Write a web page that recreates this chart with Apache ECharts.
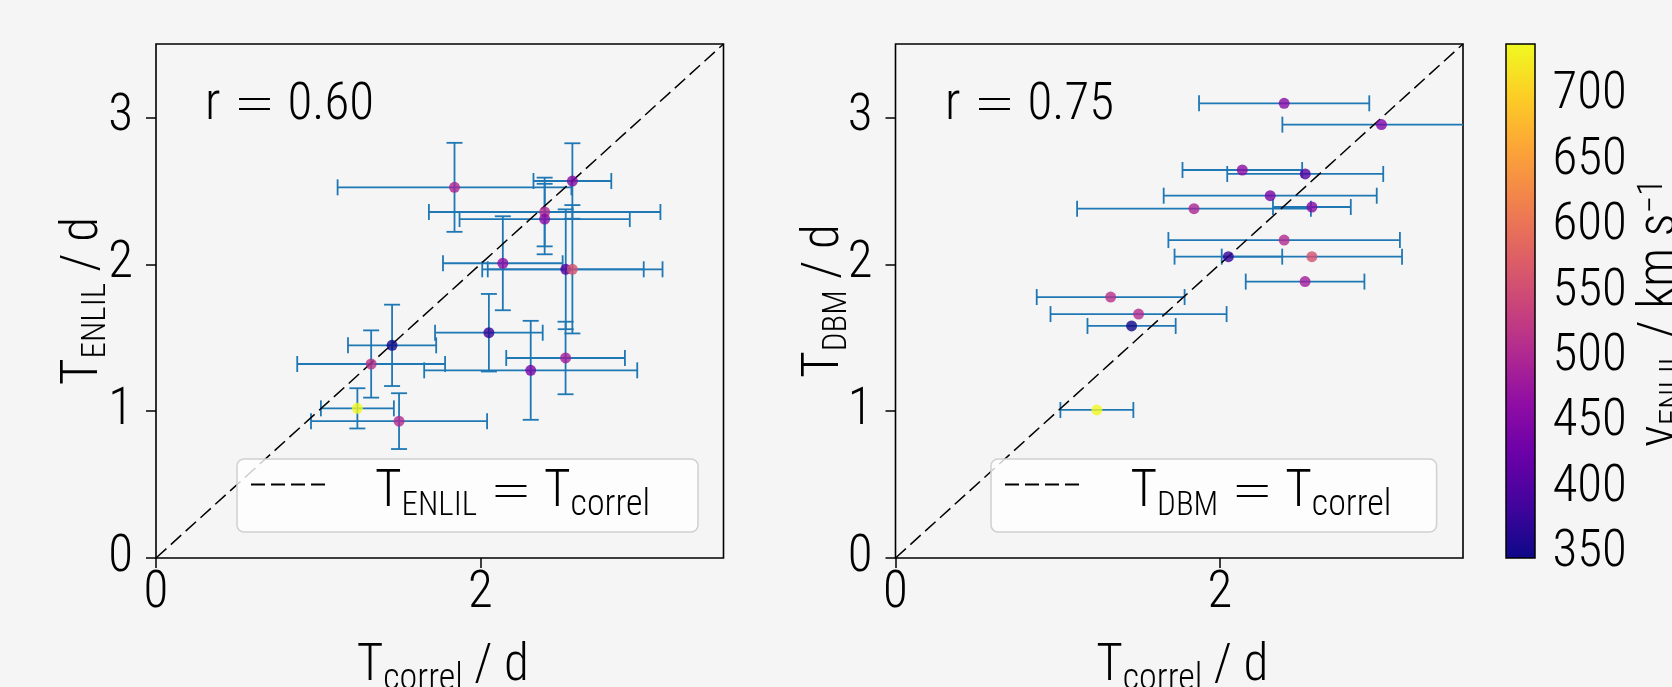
<!DOCTYPE html>
<html>
<head>
<meta charset="utf-8">
<script src="https://cdn.jsdelivr.net/npm/echarts@6.0.0/dist/echarts.min.js"></script>
<style>
html,body{margin:0;padding:0;background:#f5f5f5;overflow:hidden;}
#chart{width:1672px;height:687px;}
</style>
</head>
<body>
<div id="chart"></div>
<script>
// ---------------- data ----------------
const tCorrel    = [2.397, 2.397, 2.997, 2.139, 2.527, 2.311, 2.568, 1.841, 2.568, 2.053, 2.526, 1.327, 1.499, 1.456, 1.242];
const tCorrelErr = [0.714, 0.525, 0.611, 0.369, 0.481, 0.657, 0.240, 0.721, 0.556, 0.332, 0.366, 0.456, 0.543, 0.272, 0.225];
const tEnlil     = [2.356, 2.308, null,  2.007, 1.966, 1.278, 2.567, 2.524, 1.966, 1.534, 1.362, 1.321, 0.932, 1.448, 1.019];
const tEnlilErr  = [0.234, 0.240, null,  0.320, 0.408, 0.337, 0.257, 0.303, 0.437, 0.264, 0.247, 0.229, 0.190, 0.277, 0.137];
const tDbm       = [2.165, 3.096, 2.951, 2.642, 2.615, 2.467, 2.390, 2.379, 2.052, 2.052, 1.882, 1.777, 1.661, 1.580, 1.008];
const vEnlil     = [505, 455, 445, 460, 400, 440, 455, 495, 555, 375, 485, 512, 504, 346.5, 739.5];
const rValues    = ['0.60', '0.75'];
const xTicks  = [0, 2];
const yTicks  = [0, 1, 2, 3];
const cbTicks = [350, 400, 450, 500, 550, 600, 650, 700];
const axisMax = 3.5;

// ---------------- styling ----------------
const FF  = "'Roboto Condensed', 'Open Sans Condensed', sans-serif";
const FW  = 300;
const EQF = "'Noto Sans CJK SC'";
const EQT = '\uFF1D';
const FS = 51, FSS = 36, FSC = 33, EQS = 42, SUBDROP = 19;
const plasma = ['#0d0887','#41049d','#6a00a8','#8f0da4','#b12a90','#cc4778','#e16462','#f2844b','#fca636','#fcce25','#f0f921'];
const errColor = '#1f77b4';
const bg = '#f5f5f5';

function makeRich(P, gpad) {
  const base = {fontWeight: FW, color: '#000', verticalAlign: 'top'};
  return {
    g: Object.assign({fontFamily: FF, fontSize: FS, lineHeight: FS, padding: [P, 0, 0, gpad || 0]}, base),
    t: Object.assign({fontFamily: FF, fontSize: FS, lineHeight: FS, padding: [P, 0, 0, 0]}, base),
    s: Object.assign({fontFamily: FF, fontSize: FSS, lineHeight: FSS, padding: [P + SUBDROP + 1, 0, 0, 0]}, base),
    S: Object.assign({fontFamily: FF, fontSize: FSC, lineHeight: FSC, padding: [P + SUBDROP + 3, 0, 0, 0]}, base),
    p: Object.assign({fontFamily: FF, fontSize: 35, lineHeight: 35, padding: [P, 0, 0, 0]}, base),
    e: Object.assign({fontFamily: EQF, fontSize: EQS, lineHeight: FS, padding: [P + 2, 12, 0, 13]}, base)
  };
}
const rich = makeRich(0, 0);

const mctx = document.createElement('canvas').getContext('2d');
function mw(txt, size, fam) { mctx.font = FW + ' ' + size + 'px ' + fam; return mctx.measureText(txt).width; }

const cbMin = Math.min.apply(null, vEnlil);
const cbMax = Math.max.apply(null, vEnlil);

const G = [
  {left: 156, top: 44, width: 567.5, height: 514},
  {left: 895.5, top: 44, width: 567.5, height: 514},
  {left: 1506, top: 44, width: 29, height: 514}
];

const leftErr = [], leftPts = [], rightErr = [], rightPts = [];
tCorrel.forEach((x, i) => {
  if (tEnlil[i] != null) {
    leftErr.push([x, tEnlil[i], tCorrelErr[i], tEnlilErr[i]]);
    leftPts.push([x, tEnlil[i], vEnlil[i]]);
  }
  rightErr.push([x, tDbm[i], tCorrelErr[i], 0]);
  rightPts.push([x, tDbm[i], vEnlil[i]]);
});

function errRender(params, api) {
  const cs = params.coordSys;
  const x = api.value(0), y = api.value(1), xe = api.value(2), ye = api.value(3);
  const st = {stroke: errColor, lineWidth: 1.8};
  const cap = 8;
  const c = api.coord([x, y]);
  const L = api.coord([x - xe, y]);
  const R = api.coord([x + xe, y]);
  const x0 = cs.x, x1 = cs.x + cs.width;
  const ch = [];
  ch.push({type: 'line', shape: {x1: Math.max(L[0], x0), y1: c[1], x2: Math.min(R[0], x1), y2: c[1]}, style: st});
  if (L[0] >= x0 - 0.5) ch.push({type: 'line', shape: {x1: L[0], y1: c[1] - cap, x2: L[0], y2: c[1] + cap}, style: st});
  if (R[0] <= x1 + 0.5) ch.push({type: 'line', shape: {x1: R[0], y1: c[1] - cap, x2: R[0], y2: c[1] + cap}, style: st});
  if (ye > 0) {
    const T = api.coord([x, y + ye]), B = api.coord([x, y - ye]);
    ch.push({type: 'line', shape: {x1: c[0], y1: T[1], x2: c[0], y2: B[1]}, style: st});
    ch.push({type: 'line', shape: {x1: c[0] - cap, y1: T[1], x2: c[0] + cap, y2: T[1]}, style: st});
    ch.push({type: 'line', shape: {x1: c[0] - cap, y1: B[1], x2: c[0] + cap, y2: B[1]}, style: st});
  }
  return {type: 'group', children: ch};
}

function cbRender(params, api) {
  const a = api.coord([0, api.value(1)]);
  const b = api.coord([1, api.value(0)]);
  const stops = plasma.map((col, k) => ({offset: k / (plasma.length - 1), color: col}));
  return {type: 'rect', shape: {x: a[0], y: a[1], width: b[0] - a[0], height: b[1] - a[1]},
          style: {fill: new echarts.graphic.LinearGradient(0, 1, 0, 0, stops)}};
}

const labelStyle = {fontFamily: FF, fontSize: FS, fontWeight: FW, color: '#000'};

function xAxisFor(gi) {
  return {
    gridIndex: gi, type: 'value', min: 0, max: axisMax,
    axisLine: {show: false}, splitLine: {show: false},
    axisTick: {show: true, length: 10, lineStyle: {color: '#000', width: 1.5}, customValues: xTicks},
    axisLabel: Object.assign({customValues: xTicks, margin: 10.5}, labelStyle),
    name: '{t|T}{s|correl}{t| / d}', nameLocation: 'middle', nameGap: 84, nameMoveOverlap: false,
    nameTextStyle: {rich: rich, padding: [0, 0, 0, 6]}
  };
}
function yAxisFor(gi, sub, gap) {
  return {
    gridIndex: gi, type: 'value', min: 0, max: axisMax,
    axisLine: {show: false}, splitLine: {show: false},
    axisTick: {show: true, length: 10, lineStyle: {color: '#000', width: 1.5}, customValues: yTicks},
    axisLabel: Object.assign({customValues: yTicks, margin: 23}, labelStyle),
    name: '{t|T}{S|' + sub + '}{t| / d}', nameLocation: 'middle', nameRotate: 90, nameGap: gap, nameMoveOverlap: false,
    nameTextStyle: {rich: rich}
  };
}

function legendFor(name, sub, left, W, gpad) {
  const P = 9;
  const textW = gpad + mw('T', FS, FF) + mw(sub, FSC, FF) + 25 + mw(EQT, EQS, EQF) + mw('T', FS, FF) + mw('correl', FSS, FF);
  const itemW = 79;
  const pr = Math.max(4, W - 13 - (itemW + 5 + textW));
  return {
    data: [name], left: left, top: 459, orient: 'horizontal',
    itemWidth: itemW, itemHeight: 14,
    padding: [0, pr, 8, 13],
    backgroundColor: 'rgba(255,255,255,0.8)', borderColor: '#d0d0d0', borderWidth: 1.5, borderRadius: 7,
    selectedMode: false,
    itemStyle: {opacity: 0},
    formatter: () => '{g|T}{S|' + sub + '}{e|' + EQT + '}{t|T}{s|correl}',
    textStyle: {rich: makeRich(P, gpad)}
  };
}

function diag(name, gi) {
  return {
    name: name, type: 'line', xAxisIndex: gi, yAxisIndex: gi,
    data: [[0, 0], [axisMax, axisMax]], symbol: 'none', silent: true, z: 3,
    itemStyle: {color: '#000', opacity: 0},
    lineStyle: {color: '#000', width: 1.5, type: [14, 6]}
  };
}

const gridBase = {show: true, borderColor: '#000', borderWidth: 1.6, backgroundColor: bg, containLabel: false, outerBoundsMode: 'none'};

const option = {
  animation: false,
  backgroundColor: bg,
  grid: [
    Object.assign({}, gridBase, G[0]),
    Object.assign({}, gridBase, G[1]),
    Object.assign({}, gridBase, {borderWidth: 1.5, backgroundColor: 'transparent', z: 10}, G[2])
  ],
  title: [
    {text: '{t|r}{e|' + EQT + '}{t|' + rValues[0] + '}', left: 205, top: 81, padding: 0, textStyle: {fontWeight: FW, rich: rich}},
    {text: '{t|r}{e|' + EQT + '}{t|' + rValues[1] + '}', left: 945, top: 81, padding: 0, textStyle: {fontWeight: FW, rich: rich}}
  ],
  legend: [
    legendFor('diagL', 'ENLIL', 237, 460, 40),
    legendFor('diagR', 'DBM', 991, 444.6, 41.5)
  ],
  xAxis: [
    xAxisFor(0), xAxisFor(1),
    {gridIndex: 2, type: 'value', min: 0, max: 1, show: false}
  ],
  yAxis: [
    yAxisFor(0, 'ENLIL', 46.5),
    yAxisFor(1, 'DBM', 45),
    {
      gridIndex: 2, type: 'value', position: 'right', min: cbMin, max: cbMax,
      axisLine: {show: false}, splitLine: {show: false},
      axisTick: {show: true, length: 10, lineStyle: {color: '#000', width: 1.5}, customValues: cbTicks},
      axisLabel: Object.assign({customValues: cbTicks, margin: 17.5}, labelStyle),
      name: '{t|v}{S|ENLIL}{t| / km s}{p|\u22121}', nameLocation: 'middle', nameRotate: 90, nameGap: 101, nameMoveOverlap: false,
      nameTextStyle: {rich: rich, padding: [0, 24, 0, 0]}
    }
  ],
  visualMap: {
    type: 'continuous', min: cbMin, max: cbMax, dimension: 2, seriesIndex: [2, 5],
    inRange: {color: plasma}, show: false
  },
  series: [
    {type: 'custom', xAxisIndex: 0, yAxisIndex: 0, renderItem: errRender, data: leftErr, silent: true, z: 2, encode: {x: 0, y: 1}},
    diag('diagL', 0),
    {type: 'scatter', xAxisIndex: 0, yAxisIndex: 0, data: leftPts, symbolSize: 11, z: 4, silent: true},
    {type: 'custom', xAxisIndex: 1, yAxisIndex: 1, renderItem: errRender, data: rightErr, silent: true, z: 2, encode: {x: 0, y: 1}},
    diag('diagR', 1),
    {type: 'scatter', xAxisIndex: 1, yAxisIndex: 1, data: rightPts, symbolSize: 11, z: 4, silent: true},
    {type: 'custom', xAxisIndex: 2, yAxisIndex: 2, renderItem: cbRender, data: [[cbMin, cbMax]], silent: true, z: 1,
     encode: {y: [0, 1]}}
  ]
};

const chart = echarts.init(document.getElementById('chart'), null, {renderer: 'canvas'});
chart.setOption(option);
</script>
</body>
</html>
